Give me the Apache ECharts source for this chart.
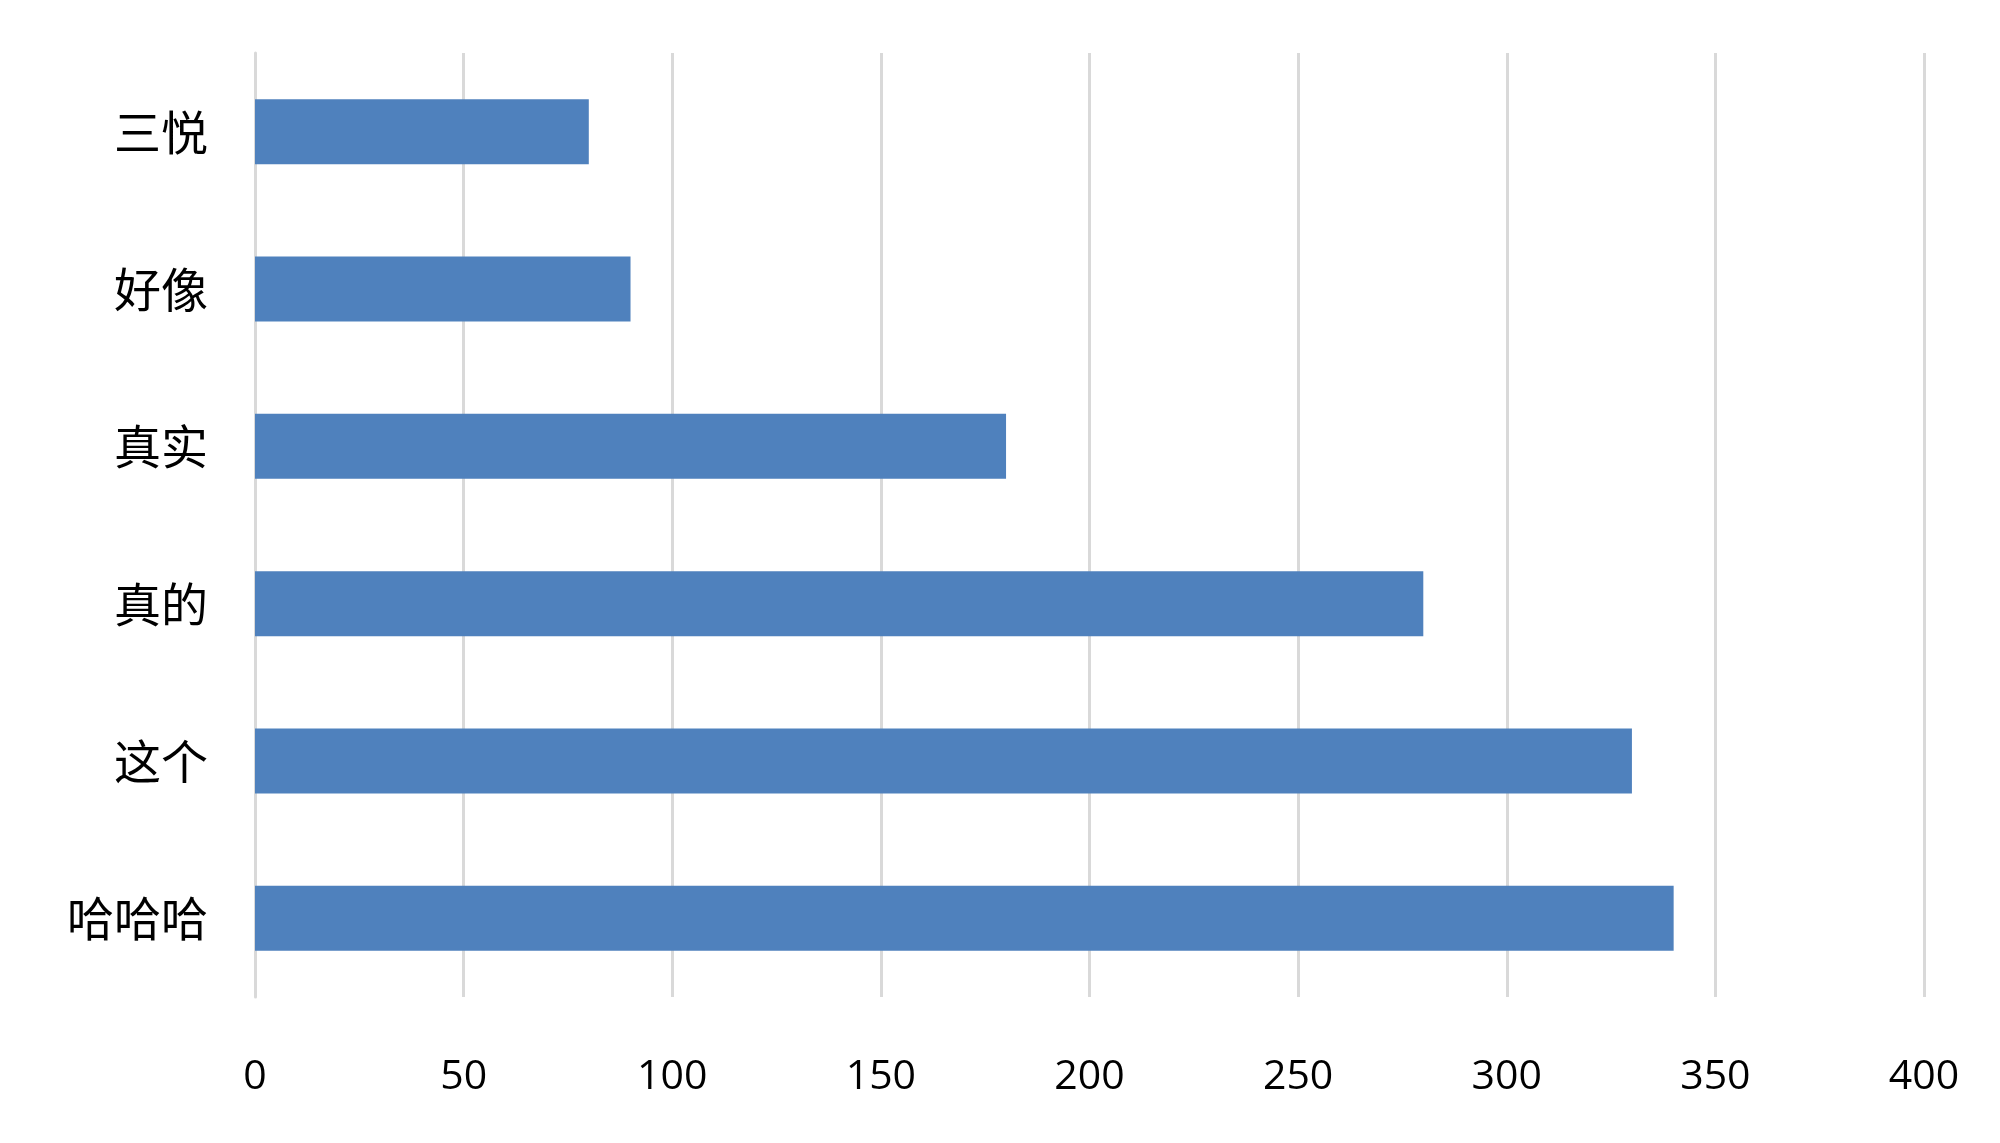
<!DOCTYPE html>
<html>
<head>
<meta charset="utf-8">
<script src="https://cdn.jsdelivr.net/npm/echarts@6/dist/echarts.min.js"></script>
<style>
html,body{margin:0;padding:0;background:#fff;}
#c{width:2000px;height:1143px;}
</style>
</head>
<body>
<div id="c"></div>
<script>
const categories = ['三悦', '好像', '真实', '真的', '这个', '哈哈哈'];
const values = [80, 90, 180, 280, 330, 340];
const xTicks = [0, 50, 100, 150, 200, 250, 300, 350, 400];

const chart = echarts.init(document.getElementById('c'));
chart.setOption({
  backgroundColor: '#ffffff',
  animation: false,
  grid: { left: 255, right: 76, top: 53, bottom: 146, containLabel: false },
  xAxis: {
    type: 'value',
    min: xTicks[0],
    max: xTicks[xTicks.length - 1],
    interval: 50,
    axisLine: { show: false },
    axisTick: { show: false },
    splitLine: { show: true, lineStyle: { color: '#d9d9d9', width: 3 } },
    axisLabel: {
      margin: 60,
      fontFamily: 'Open Sans',
      fontSize: 41,
      color: '#000'
    }
  },
  yAxis: {
    type: 'category',
    data: categories,
    inverse: true,
    axisLine: { show: true, lineStyle: { color: '#d9d9d9', width: 3 } },
    axisTick: { show: false },
    axisLabel: {
      margin: 47,
      fontFamily: 'Noto Sans CJK SC',
      fontSize: 47,
      color: '#000'
    }
  },
  series: [{
    type: 'bar',
    data: values,
    barWidth: 65,
    itemStyle: { color: '#4f81bd' }
  }]
});
</script>
</body>
</html>
